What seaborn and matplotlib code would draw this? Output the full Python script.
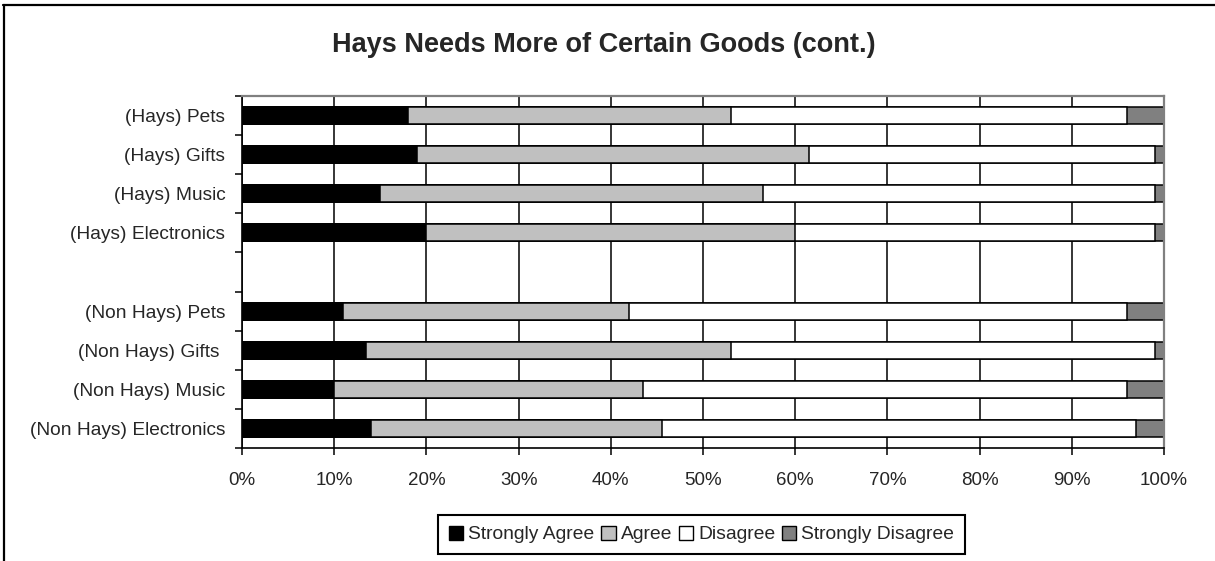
import numpy as np
import pandas as pd
import matplotlib
matplotlib.use("Agg")
import matplotlib.pyplot as plt
import seaborn as sns
from matplotlib.lines import Line2D
from matplotlib.patches import Patch
from matplotlib.ticker import FixedLocator

# Survey shares (percent of respondents) per item
categories = ["(Hays) Pets", "(Hays) Gifts", "(Hays) Music", "(Hays) Electronics",
              "(Non Hays) Pets", "(Non Hays) Gifts ", "(Non Hays) Music",
              "(Non Hays) Electronics"]
strongly_agree = [18, 19, 15, 20, 11, 13.5, 10, 14]
agree = [35, 42.5, 41.5, 40, 31, 39.5, 33.5, 31.5]
disagree = [43, 37.5, 42.5, 39, 54, 46, 52.5, 51.5]
strongly_disagree = [4, 1, 1, 1, 4, 1, 4, 3]
responses = ["Strongly Agree", "Agree", "Disagree", "Strongly Disagree"]
x_ticks = [0, 10, 20, 30, 40, 50, 60, 70, 80, 90, 100]
title = "Hays Needs More of Certain Goods (cont.)"

colors = ["#000000", "#C0C0C0", "#FFFFFF", "#808080"]

sns.set_style("white")
plt.rcParams["font.family"] = ["Liberation Sans", "DejaVu Sans"]

# Empty slot separating the two respondent groups
spacer = ""
order = categories[:4] + [spacer] + categories[4:]

segments = np.array([strongly_agree, agree, disagree, strongly_disagree], dtype=float)
cumulative = np.cumsum(segments, axis=0)
df = pd.DataFrame({"category": categories})
for i in range(4):
    df[f"cum{i}"] = cumulative[i]

fig = plt.figure(figsize=(12.15, 5.61), dpi=100)
fig.patch.set_facecolor("white")
ax = fig.add_axes([242 / 1215, 1 - 448 / 561, (1164 - 242) / 1215, (448 - 96) / 561])

# Stacked bars: draw cumulative totals from the outermost segment inward
for i in reversed(range(4)):
    sns.barplot(data=df, x=f"cum{i}", y="category", order=order, color=colors[i],
                saturation=1, edgecolor="black", linewidth=1.1, width=0.435,
                errorbar=None, ax=ax)

ax.set_xlim(0, 100)
ax.set_ylim(len(order) - 0.5, -0.5)
ax.set_xlabel("")
ax.set_ylabel("")

ax.set_axisbelow(True)
ax.xaxis.grid(True, color="black", linewidth=1.1)
ax.yaxis.grid(False)

ax.xaxis.set_major_locator(FixedLocator(x_ticks))
ax.set_xticklabels([f"{t}%" for t in x_ticks], fontsize=13.5)
ax.tick_params(axis="x", which="major", direction="out", length=5, width=1.1,
               color="black", pad=12, bottom=True)

ax.set_yticks(range(len(order)))
ax.set_yticklabels(order, fontsize=13.8)
ax.tick_params(axis="y", which="major", length=0, pad=12, left=True)
ax.yaxis.set_minor_locator(FixedLocator(np.arange(-0.5, len(order), 1.0)))
ax.tick_params(axis="y", which="minor", direction="out", length=5, width=1.1,
               color="black", left=True)

for side in ["left", "bottom"]:
    ax.spines[side].set_color("black")
    ax.spines[side].set_linewidth(1.2)
for side in ["top", "right"]:
    ax.spines[side].set_color("#808080")
    ax.spines[side].set_linewidth(1.6)
    ax.spines[side].set_visible(True)

fig.text(604 / 1215, 1 - 45 / 561, title, ha="center", va="center",
         fontsize=19.5, fontweight="bold")

handles = [Patch(facecolor=c, edgecolor="black", linewidth=1.0) for c in colors]
leg = fig.legend(handles, responses, loc="center",
                 bbox_to_anchor=(701.5 / 1215, 1 - 534.5 / 561), ncol=4,
                 frameon=True, fancybox=False, edgecolor="black", framealpha=1,
                 handlelength=0.75, handleheight=0.75, handletextpad=0.25,
                 columnspacing=0.35, borderpad=0.55, borderaxespad=0,
                 fontsize=13.9)
leg.get_frame().set_linewidth(1.5)

# Chart-area border (open at right and bottom edges)
fig.add_artist(Line2D([3 / 1215, 1.0], [1 - 5 / 561, 1 - 5 / 561],
                      transform=fig.transFigure, color="black", linewidth=1.6))
fig.add_artist(Line2D([4 / 1215, 4 / 1215], [0.0, 1 - 5 / 561],
                      transform=fig.transFigure, color="black", linewidth=1.6))

fig.savefig("out.png", dpi=100)
